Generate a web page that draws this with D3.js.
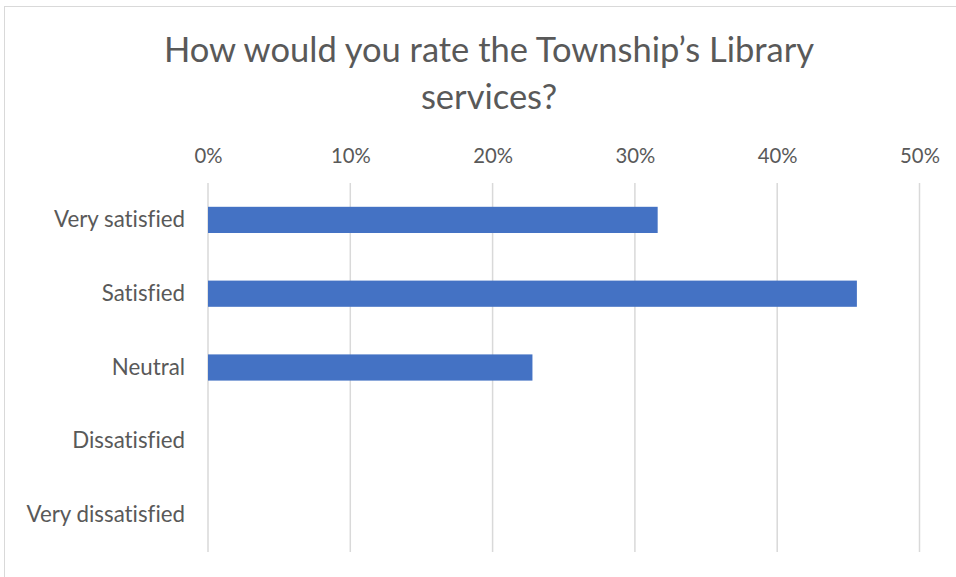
<!DOCTYPE html>
<html>
<head>
<meta charset="utf-8">
<script src="https://cdn.jsdelivr.net/npm/d3@7"></script>
<style>
  html, body { margin: 0; padding: 0; background: #fff; }
  svg { display: block; font-family: Lato, "Open Sans", sans-serif; font-variant-ligatures: none; }
</style>
</head>
<body>
<svg id="chart" width="956" height="577"></svg>
<script>
// Survey responses
const categories = ["Very satisfied", "Satisfied", "Neutral", "Dissatisfied", "Very dissatisfied"];
const shares = [0.316, 0.456, 0.228, 0, 0];
const tickValues = [0, 0.1, 0.2, 0.3, 0.4, 0.5];
const titleLines = ["How would you rate the Township\u2019s Library", "services?"];

const svg = d3.select("#chart");
const W = 956, H = 577;
const plot = { left: 208, right: 919.5, top: 183, bottom: 552 };
const textColor = "#595959";
const gridColor = "#d9d9d9";

// chart frame
svg.append("rect")
  .attr("x", 4.5).attr("y", 6.5)
  .attr("width", W + 10).attr("height", H + 10)
  .attr("fill", "#fff").attr("stroke", gridColor).attr("stroke-width", 1);

const x = d3.scaleLinear().domain([0, 0.5]).range([plot.left, plot.right]);
const y = d3.scaleBand().domain(categories).range([plot.top, plot.bottom]).paddingInner(0.645).paddingOuter(0.3225);

// vertical gridlines
svg.append("g").selectAll("line").data(tickValues).join("line")
  .attr("x1", d => x(d)).attr("x2", d => x(d))
  .attr("y1", plot.top).attr("y2", plot.bottom)
  .attr("stroke", gridColor).attr("stroke-width", 1.5);

// top axis labels
const xAxis = d3.axisTop(x).tickValues(tickValues).tickFormat(d3.format(".0%")).tickSize(0).tickPadding(0);
const gx = svg.append("g").attr("transform", `translate(0,${163})`).call(xAxis);
gx.select(".domain").remove();
gx.selectAll("text").attr("fill", textColor).attr("font-size", 20.3).attr("font-family", "Lato, sans-serif");

// category labels
const yAxis = d3.axisLeft(y).tickSize(0).tickPadding(0);
const gy = svg.append("g").attr("transform", `translate(${185},0)`).call(yAxis);
gy.select(".domain").remove();
gy.selectAll("text").attr("fill", textColor).attr("font-size", 22.3).attr("font-family", "Lato, sans-serif");

// bars
svg.append("g").selectAll("rect").data(categories).join("rect")
  .attr("x", x(0))
  .attr("y", d => y(d))
  .attr("width", (d, i) => x(shares[i]) - x(0))
  .attr("height", y.bandwidth())
  .attr("fill", "#4472c4");

// title
svg.append("g").selectAll("text").data(titleLines).join("text")
  .attr("x", 489).attr("y", (d, i) => 62 + i * 47)
  .attr("text-anchor", "middle")
  .attr("fill", textColor)
  .attr("font-size", 34.5)
  .text(d => d);
</script>
</body>
</html>
